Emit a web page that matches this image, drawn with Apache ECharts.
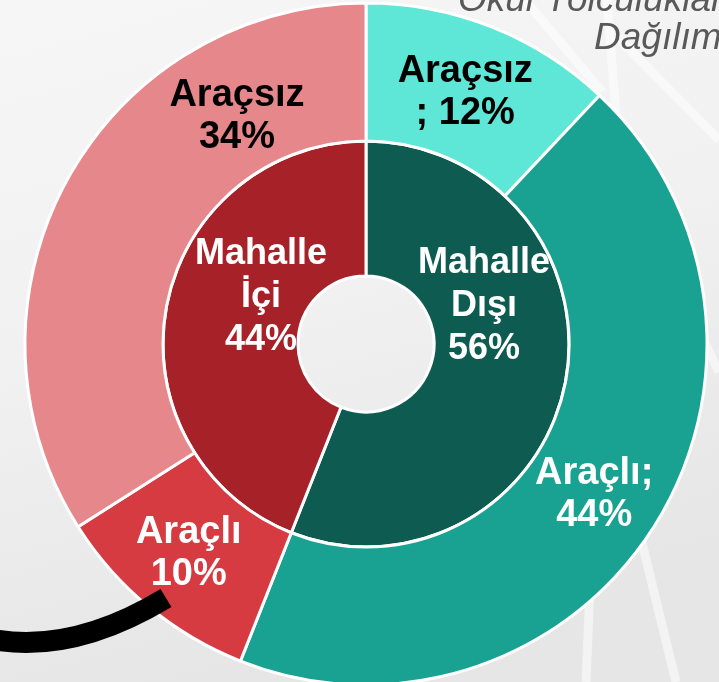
<!DOCTYPE html>
<html>
<head>
<meta charset="utf-8">
<title>Okul Yolculuklarının Dağılımı</title>
<script src="https://cdn.jsdelivr.net/npm/echarts@6/dist/echarts.min.js"></script>
<style>
  html, body { margin: 0; padding: 0; background: #f0f0f0; }
  #chart { width: 719px; height: 682px; }
</style>
</head>
<body>
<div id="chart"></div>
<script>
// Inner ring: trips inside / outside the neighbourhood
const innerNames = ['Mahalle\nDışı', 'Mahalle\nİçi'];
const innerValues = [56, 44];
const innerColors = ['#0E5C51', '#A72128'];

// Outer ring: with / without a vehicle, in the same order around the circle
const outerNames = ['Araçsız', 'Araçlı', 'Araçlı', 'Araçsız'];
const outerValues = [12, 44, 10, 34];
const outerSeparators = ['\n; ', ';\n', '\n', '\n'];
const outerColors = ['#5EE7D7', '#19A291', '#D63B41', '#E5878B'];
const outerTextColors = ['#000', '#fff', '#fff', '#000'];

const titleLines = ['Okul Yolculuklarının', 'Dağılımı'];

const FONT = '"Liberation Sans", Arial, sans-serif';
const CENTER = [366, 344];

const labelBase = {
  show: true,
  position: 'inside',
  fontFamily: FONT,
  fontWeight: 'bold',
  align: 'center',
  textBorderWidth: 0,
  textShadowBlur: 0
};

const innerOffsets = [[-18, -64], [31, -21]];
const outerOffsets = [[-2, 4], [-4, 3], [-2, -2], [112, -95]];

const innerData = innerValues.map((v, i) => ({
  name: innerNames[i],
  value: v,
  itemStyle: { color: innerColors[i] },
  label: Object.assign({}, labelBase, {
    color: '#fff',
    fontSize: 36,
    lineHeight: 43,
    offset: innerOffsets[i],
    formatter: innerNames[i] + '\n' + v + '%'
  })
}));

const outerData = outerValues.map((v, i) => ({
  name: outerNames[i],
  value: v,
  itemStyle: { color: outerColors[i] },
  label: Object.assign({}, labelBase, {
    color: outerTextColors[i],
    fontSize: 38,
    lineHeight: 42,
    offset: outerOffsets[i],
    formatter: outerNames[i] + outerSeparators[i] + v + '%'
  })
}));

// soft white streaks in the slide background
const streaks = [
  [[525, 0], [602, 92]],
  [[607, 0], [618, 140]],
  [[615, 35], [719, 140]],
  [[688, 308], [719, 372]],
  [[592, 540], [586, 682]],
  [[612, 420], [676, 682]]
];

const graphics = [
  {
    type: 'rect',
    z: -10,
    silent: true,
    shape: { x: 0, y: 0, width: 719, height: 682 },
    style: {
      fill: new echarts.graphic.LinearGradient(0, 0, 0.25, 1, [
        { offset: 0, color: '#f6f6f6' },
        { offset: 0.5, color: '#f1f1f1' },
        { offset: 1, color: '#e6e6e6' }
      ])
    }
  }
].concat(streaks.map(s => ({
  type: 'line',
  z: -5,
  silent: true,
  shape: { x1: s[0][0], y1: s[0][1], x2: s[1][0], y2: s[1][1] },
  style: { stroke: 'rgba(255,255,255,0.5)', lineWidth: 9 }
}))).concat([
  {
    type: 'text',
    z: -4,
    silent: true,
    left: 458,
    top: -18,
    style: {
      text: titleLines[0],
      fontFamily: FONT,
      fontSize: 37,
      fontStyle: 'italic',
      fill: '#595959'
    }
  },
  {
    type: 'text',
    z: -4,
    silent: true,
    left: 594,
    top: 20,
    style: {
      text: titleLines[1],
      fontFamily: FONT,
      fontSize: 37,
      fontStyle: 'italic',
      fill: '#595959'
    }
  },
  {
    // black connector arc at the lower left
    type: 'bezierCurve',
    z: 100,
    silent: true,
    shape: { x1: -30, y1: 634, cpx1: 60, cpy1: 662, x2: 166, y2: 598 },
    style: { stroke: '#000', lineWidth: 21, fill: 'none', lineCap: 'butt' }
  }
]);

const chart = echarts.init(document.getElementById('chart'), null, { renderer: 'canvas' });
chart.setOption({
  animation: false,
  graphic: graphics,
  series: [
    {
      type: 'pie',
      z: 2,
      center: CENTER,
      radius: [68, 203],
      startAngle: 90,
      clockwise: true,
      avoidLabelOverlap: false,
      labelLine: { show: false },
      emphasis: { disabled: true },
      itemStyle: { borderColor: '#fff', borderWidth: 3 },
      data: innerData
    },
    {
      type: 'pie',
      z: 2,
      center: CENTER,
      radius: [203, 341],
      startAngle: 90,
      clockwise: true,
      avoidLabelOverlap: false,
      labelLine: { show: false },
      emphasis: { disabled: true },
      itemStyle: { borderColor: '#fff', borderWidth: 3 },
      data: outerData
    }
  ]
});
</script>
</body>
</html>
